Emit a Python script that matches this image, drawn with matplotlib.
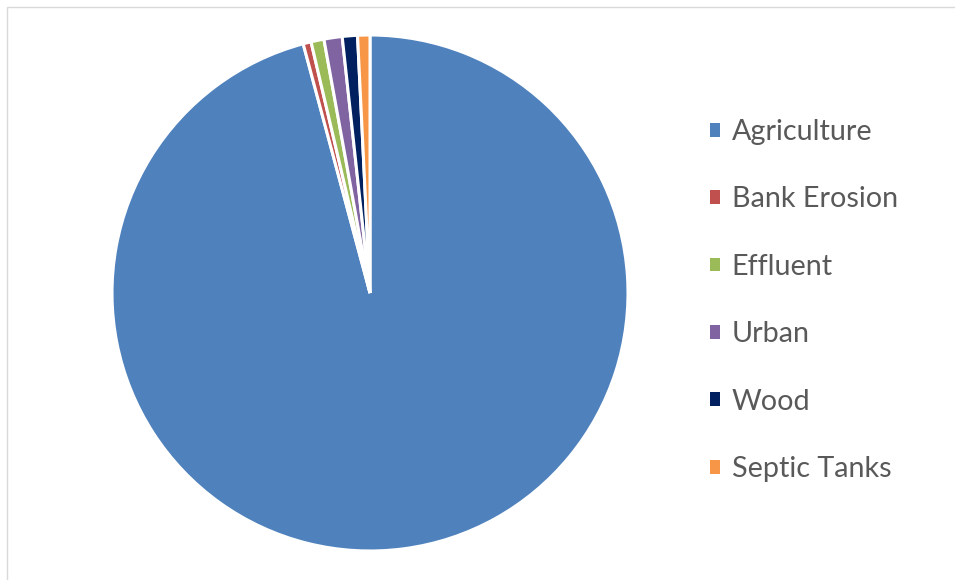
import matplotlib
matplotlib.use("Agg")
import matplotlib.pyplot as plt
from matplotlib.patches import Rectangle

categories = ["Agriculture", "Bank Erosion", "Effluent", "Urban", "Wood", "Septic Tanks"]
values = [95.83, 0.50, 0.81, 1.14, 0.95, 0.77]
colors = ["#4F81BD", "#C0504D", "#9BBB59", "#8064A2", "#002060", "#F79646"]

W, H = 955, 580
fig = plt.figure(figsize=(W / 100, H / 100), dpi=100)
fig.patch.set_facecolor("white")

# light border of the chart area
fig.add_artist(Rectangle((7 / W, -0.1), 1.2, 1 - 7 / H + 0.1, transform=fig.transFigure,
                         fill=False, edgecolor="#D9D9D9", linewidth=1.0))

cx, cy, r = 370, 293, 258
ax = fig.add_axes([(cx - r) / W, (H - cy - r) / H, 2 * r / W, 2 * r / H])
wedges, _ = ax.pie(values, colors=colors, startangle=90, counterclock=False,
                   radius=1.0, wedgeprops=dict(edgecolor="white", linewidth=2.2))
ax.set_xlim(-1, 1)
ax.set_ylim(-1, 1)
ax.set_aspect("auto")
ax.axis("off")

leg = fig.legend(wedges, categories, loc="upper left",
                 bbox_to_anchor=(710 / W, 1 - 119 / H), frameon=False,
                 prop=dict(family="Lato", size=20.7), labelcolor="#595959",
                 handlelength=0.36, handleheight=0.36, handletextpad=0.4,
                 labelspacing=1.44, borderpad=0, borderaxespad=0)
for h in leg.legend_handles:
    h.set_edgecolor("none")

fig.savefig("out.png", dpi=100, facecolor="white")
